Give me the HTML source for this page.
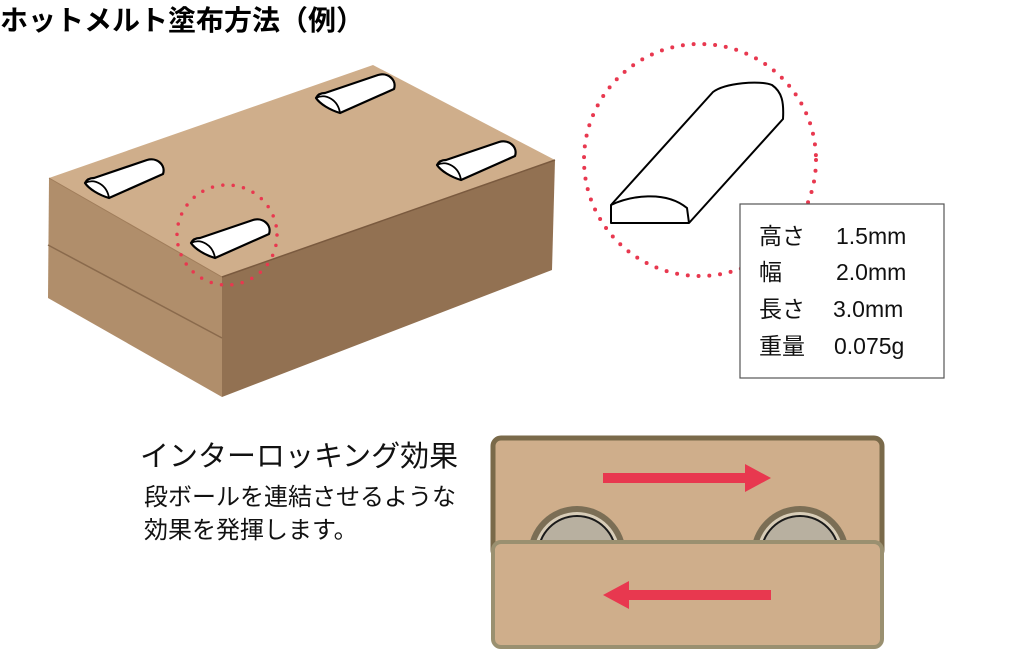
<!DOCTYPE html>
<html><head><meta charset="utf-8"><style>
html,body{margin:0;padding:0;background:#fff;}
svg{display:block;}
text{font-family:"Liberation Sans","Noto Sans CJK JP",sans-serif;}
</style></head><body>
<svg width="1024" height="666" viewBox="0 0 1024 666" xmlns="http://www.w3.org/2000/svg">
<defs>
<g id="blob">
<path d="M0,0 C2,-4 5,-5 9,-5 L62,-23 C72,-26 81,-18 78,-9 L24,15 C14,12 4,6 0,0 Z" fill="#fff" stroke="#000" stroke-width="2.2" stroke-linejoin="round"/>
<path d="M0,0 C10,-5 22,2 24,15" fill="none" stroke="#000" stroke-width="1.8"/>
</g>
</defs>
<text x="0" y="30" font-size="28" font-weight="bold" fill="#000">ホットメルト塗布方法（例）</text>

<!-- box -->
<polygon points="49,178 222,277 222,397 48,298" fill="#b08e6b"/>
<polygon points="222,277 555,160 552,270 222,397" fill="#927152"/>
<polygon points="49,178 373,65 555,160 222,277" fill="#cfae8b"/>
<line x1="48" y1="245" x2="222" y2="338" stroke="#8a6a4c" stroke-width="1.5"/>
<line x1="49" y1="178" x2="222" y2="277" stroke="#a07d5b" stroke-width="1"/>
<line x1="222" y1="277" x2="555" y2="160" stroke="#7a5a3f" stroke-width="1.5"/>

<use href="#blob" transform="translate(85,183)"/>
<use href="#blob" transform="translate(316,98)"/>
<use href="#blob" transform="translate(437,165)"/>
<use href="#blob" transform="translate(191,243)"/>

<circle cx="227" cy="235" r="50" fill="none" stroke="#e8384f" stroke-width="3.5" stroke-dasharray="0 10.5" stroke-linecap="round"/>
<circle cx="700" cy="160" r="116" fill="none" stroke="#e8384f" stroke-width="4" stroke-dasharray="0 10.8" stroke-linecap="round"/>

<!-- big blob -->
<path d="M611,223 L611,205 L713,92 C725,83 760,80 772,85 C782,92 784,102 783,119 L689,223 Z" fill="#fff" stroke="#000" stroke-width="2" stroke-linejoin="round"/>
<path d="M611,205 C630,196 665,190 687,208 L689,223" fill="none" stroke="#000" stroke-width="2"/>

<rect x="740" y="204" width="204" height="174" fill="#fff" stroke="#555" stroke-width="1.2"/>
<g font-size="23" fill="#111">
<text x="759" y="244">高さ</text><text x="836" y="244">1.5mm</text>
<text x="759" y="280">幅</text><text x="836" y="280">2.0mm</text>
<text x="759" y="317">長さ</text><text x="833" y="317">3.0mm</text>
<text x="759" y="354">重量</text><text x="834" y="354">0.075g</text>
</g>

<text x="140" y="466" font-size="29" fill="#111">インターロッキング効果</text>
<text x="144" y="505" font-size="24" fill="#111">段ボールを連結させるような</text>
<text x="144" y="538" font-size="24" fill="#111">効果を発揮します。</text>

<!-- interlock -->
<rect x="493" y="438" width="389" height="120" rx="8" fill="#cfae8b" stroke="#7a6a4a" stroke-width="5"/>
<g>
<circle cx="577" cy="555" r="49" fill="#7b6e55"/>
<circle cx="577" cy="555" r="43" fill="#d8cdb8"/>
<circle cx="577" cy="555" r="40" fill="#1a1a1a"/>
<circle cx="577" cy="555" r="38" fill="#b8b0a0"/>
<circle cx="800" cy="555" r="49" fill="#7b6e55"/>
<circle cx="800" cy="555" r="43" fill="#d8cdb8"/>
<circle cx="800" cy="555" r="40" fill="#1a1a1a"/>
<circle cx="800" cy="555" r="38" fill="#b8b0a0"/>
</g>
<rect x="493" y="542" width="389" height="105" rx="8" fill="#cfae8b" stroke="#9a9070" stroke-width="4"/>
<polygon points="603,473 745,473 745,464 771,478 745,492 745,483 603,483" fill="#e8384f"/>
<polygon points="771,590 629,590 629,581 603,595 629,609 629,600 771,600" fill="#e8384f"/>
</svg>
</body></html>
